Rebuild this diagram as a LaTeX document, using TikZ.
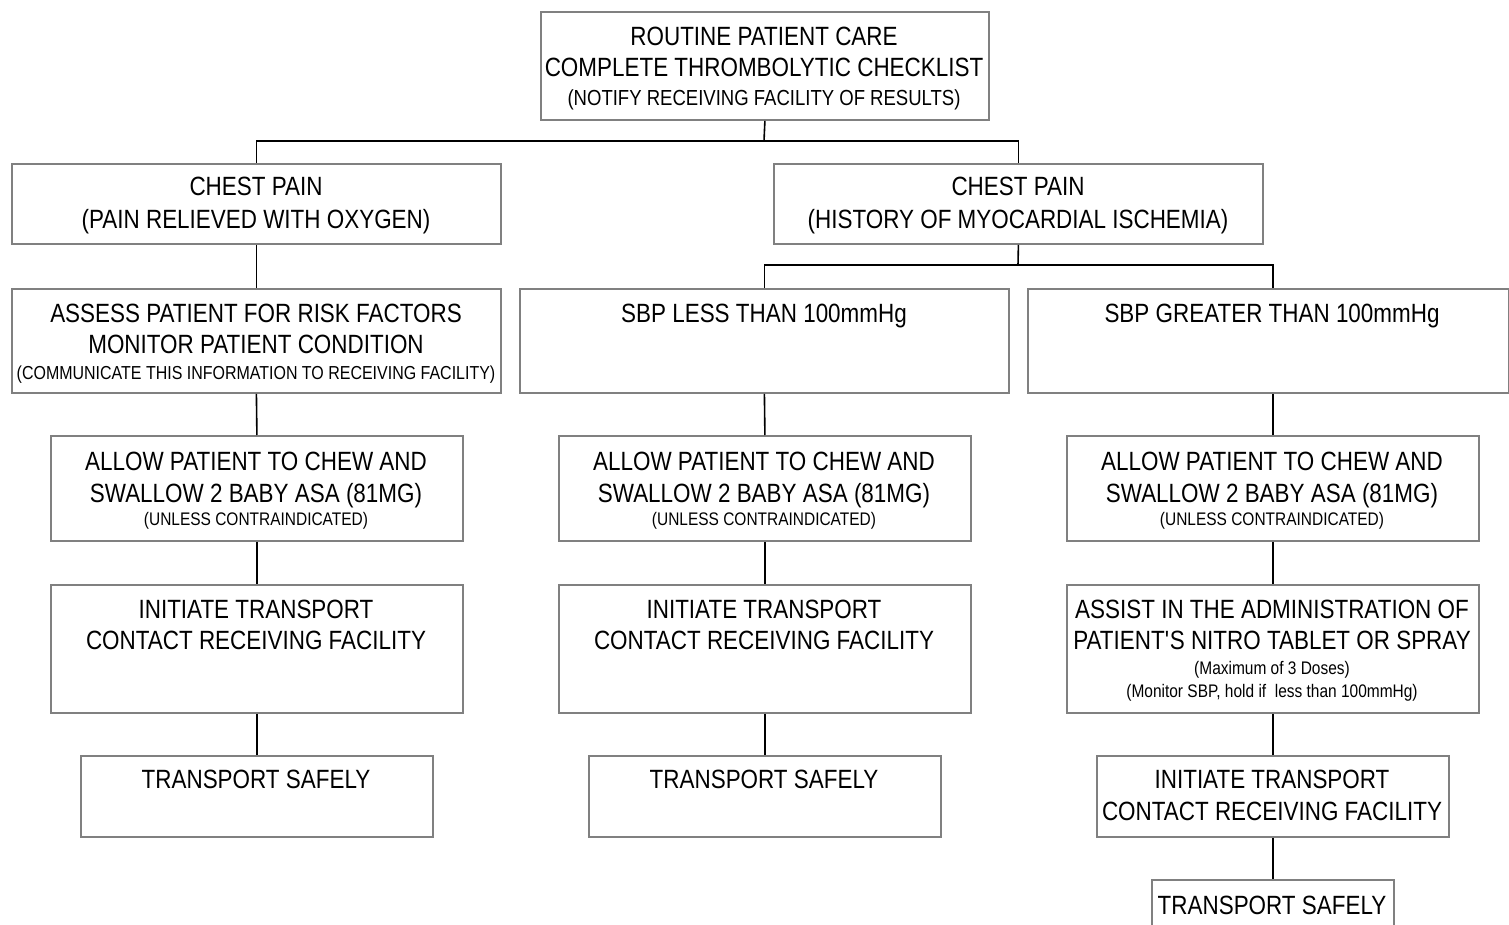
\documentclass[tikz,border=0pt]{standalone}
\usepackage{fontspec}
\setmainfont{Liberation Sans}[FakeStretch=0.85]
\begin{document}
\begin{tikzpicture}[x=0.5pt,y=-0.5pt,
  box/.style={draw=black!50, line width=0.9pt, anchor=north west, inner sep=0pt},
  link/.style={draw=black, line width=0.8pt},
  big/.style={anchor=base, inner sep=0pt, font=\fontsize{13.2}{15}\selectfont},
  mid/.style={anchor=base, inner sep=0pt, font=\fontsize{10.9}{13}\selectfont},
  sml/.style={anchor=base, inner sep=0pt, font=\fontsize{9.4}{11}\selectfont},
  tiny/.style={anchor=base, inner sep=0pt, font=\fontsize{9.1}{10}\selectfont}]
\clip (0,0) rectangle (1509,925);
\fill[white] (0,0) rectangle (1509,925);

% boxes: (left,top) with width and height in pixels
\newcommand{\boxat}[5]{\node[box, minimum width=#3*0.5pt, minimum height=#4*0.5pt] (#5) at (#1,#2) {};}
\boxat{540}{11}{448}{108}{top}
\boxat{11}{163}{489}{80}{cpl}
\boxat{773}{163}{489}{80}{cpr}
\boxat{11}{288}{489}{104}{assess}
\boxat{519}{288}{489}{104}{sbpl}
\boxat{1027}{288}{481}{104}{sbpg}
\boxat{50}{435}{412}{105}{asaa}
\boxat{558}{435}{412}{105}{asab}
\boxat{1066}{435}{412}{105}{asac}
\boxat{50}{584}{412}{128}{inita}
\boxat{558}{584}{412}{128}{initb}
\boxat{1066}{584}{412}{128}{nitro}
\boxat{80}{755}{352}{81}{tsa}
\boxat{588}{755}{352}{81}{tsb}
\boxat{1096}{755}{352}{81}{initc}
\boxat{1151}{879}{242}{80}{tsc}

% texts
\node[big] (t1) at (764,46) {ROUTINE PATIENT CARE};
\node[big] (t2) at (764,77) {COMPLETE THROMBOLYTIC CHECKLIST};
\node[mid] (t3) at (764,106) {(NOTIFY RECEIVING FACILITY OF RESULTS)};

\node[big] (c1) at (256,196) {CHEST PAIN};
\node[big] (c2) at (256,228) {(PAIN RELIEVED WITH OXYGEN)};
\node[big] (c3) at (1018,196) {CHEST PAIN};
\node[big] (c4) at (1018,228) {(HISTORY OF MYOCARDIAL ISCHEMIA)};

\node[big] (a1) at (256,322) {ASSESS PATIENT FOR RISK FACTORS};
\node[big] (a2) at (256,353) {MONITOR PATIENT CONDITION};
\node[sml] (a3) at (256,379) {(COMMUNICATE THIS INFORMATION TO RECEIVING FACILITY)};
\node[big] (s1) at (764,322) {SBP LESS THAN 100mmHg};
\node[big] (s2) at (1272,322) {SBP GREATER THAN 100mmHg};

\foreach \cx/\nm in {256/l,764/m,1272/r}{
  \node[big] (asa1\nm) at (\cx,470) {ALLOW PATIENT TO CHEW AND};
  \node[big] (asa2\nm) at (\cx,502) {SWALLOW 2 BABY ASA (81MG)};
  \node[tiny] (asa3\nm) at (\cx,525) {(UNLESS CONTRAINDICATED)};
}
\foreach \cx/\nm in {256/l,764/m}{
  \node[big] (in1\nm) at (\cx,618) {INITIATE TRANSPORT};
  \node[big] (in2\nm) at (\cx,649) {CONTACT RECEIVING FACILITY};
  \node[big] (ts\nm) at (\cx,788) {TRANSPORT SAFELY};
}
\node[big] (n1) at (1272,618) {ASSIST IN THE ADMINISTRATION OF};
\node[big] (n2) at (1272,649) {PATIENT\textquotesingle S NITRO TABLET OR SPRAY};
\node[tiny] (n3) at (1272,674) {(Maximum of 3 Doses)};
\node[tiny] (n4) at (1272,697) {(Monitor SBP, hold if\ \ less than 100mmHg)};
\node[big] (in1r) at (1272,788) {INITIATE TRANSPORT};
\node[big] (in2r) at (1272,820) {CONTACT RECEIVING FACILITY};
\node[big] (tsr) at (1272,914) {TRANSPORT SAFELY};

% connectors
\coordinate (j1) at (764,141);
\coordinate (j2) at (1018,265);
\draw[link] (top.south) -- (j1);
\draw[link] (cpl.north) |- (j1) -| (cpr.north);
\draw[link] (cpr.south) -- (j2);
\draw[link] (sbpl.north) |- (j2);
\draw[link] (j2) -| (sbpg.north -| asac.north);
\draw[link] (cpl.south) -- (assess.north);
\draw[link] (assess.south) -- (asaa.north);
\draw[link] (asaa.south) -- (inita.north);
\draw[link] (inita.south) -- (tsa.north);
\draw[link] (sbpl.south) -- (asab.north);
\draw[link] (asab.south) -- (initb.north);
\draw[link] (initb.south) -- (tsb.north);
\draw[link] (sbpg.south -| asac.north) -- (asac.north);
\draw[link] (asac.south) -- (nitro.north);
\draw[link] (nitro.south) -- (initc.north);
\draw[link] (initc.south) -- (tsc.north);
\end{tikzpicture}
\end{document}
